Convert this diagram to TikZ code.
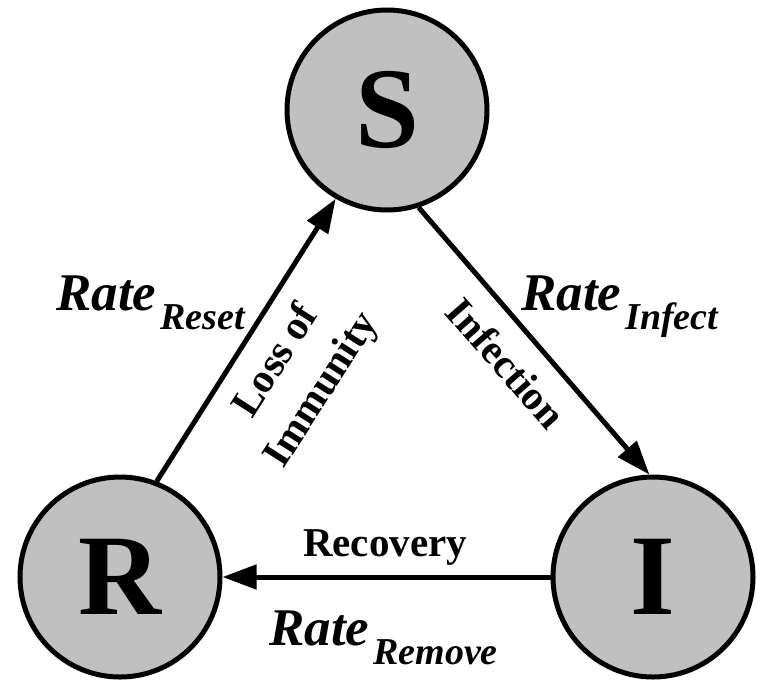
\documentclass[tikz,border=0pt]{standalone}
\usepackage{fontspec}
\setmainfont{Liberation Serif}
\usetikzlibrary{arrows.meta}
\definecolor{fillgray}{RGB}{192,192,192}
\tikzset{
  state/.style={circle,draw=black,line width=5pt,fill=fillgray,minimum size=200pt,inner sep=0pt,
    font=\fontsize{115}{120}\selectfont\bfseries},
  flow/.style={line width=5pt,-{Triangle[length=34pt,width=24pt]}},
  lbl/.style={inner sep=0pt,font=\fontsize{41}{54}\selectfont\bfseries},
  rate/.style={inner sep=0pt,anchor=base west}
}
\newcommand{\ratelabel}[1]{{\fontsize{53}{60}\selectfont\bfseries\itshape Rate}\kern4pt\raisebox{-19pt}{\fontsize{38}{42}\selectfont\bfseries\itshape #1}}
\begin{document}
\begin{tikzpicture}[x=1pt,y=-1pt]
\useasboundingbox (0,0) rectangle (757,681);
\node[state] (S) at (387,110) {S};
\node[state] (R) at (120,577) {R};
\node[state] (I) at (653,577) {I};
\draw[flow] (S.-72) -- (I.92);
\draw[flow] (I.west) -- (R.east);
\draw[flow] (R.69) -- (S.240);
\node[lbl,anchor=base] (rec) at (385,556) {Recovery};
\node[lbl,rotate=-48.8] (inf) at (506,363) {Infection};
\node[lbl,rotate=57.4,align=center] (loss) at (300,376) {Loss of\\Immunity};
\node[rate] (rreset) at (56,310) {\ratelabel{Reset}};
\node[rate] (rinf) at (521,310) {\ratelabel{Infect}};
\node[rate] (rrem) at (269,645) {\ratelabel{Remove}};
\end{tikzpicture}
\end{document}
